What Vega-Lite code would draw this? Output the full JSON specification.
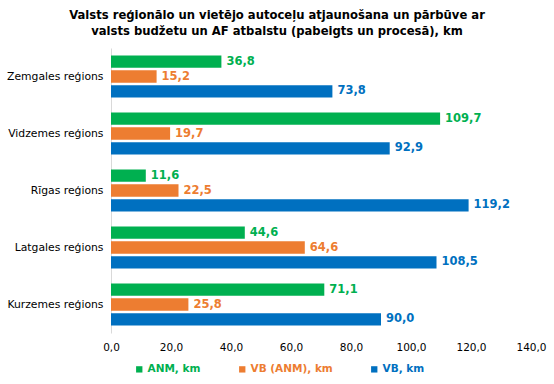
{
  "$schema": "https://vega.github.io/schema/vega-lite/v6.json",
  "width": 420,
  "height": 285,
  "autosize": {"type": "none"},
  "padding": {"left": 111, "top": 48, "right": 23, "bottom": 51},
  "background": "white",
  "config": {
    "locale": {"number": {"decimal": ",", "thousands": " ", "grouping": [3], "currency": ["", ""]}},
    "font": "DejaVu Sans",
    "view": {"stroke": null}
  },
  "title": {
    "text": ["Valsts reģionālo un vietējo autoceļu atjaunošana un pārbūve ar", "valsts budžetu un AF atbalstu (pabeigts un procesā), km"],
    "font": "DejaVu Sans",
    "fontSize": 11.6,
    "fontWeight": "bold",
    "color": "#000000",
    "anchor": "middle",
    "frame": "group",
    "dx": -44,
    "offset": 10,
    "lineHeight": 16
  },
  "data": {
    "values": [
      {"region": "Zemgales reģions", "series": "ANM, km", "value": 36.8},
      {"region": "Zemgales reģions", "series": "VB (ANM), km", "value": 15.2},
      {"region": "Zemgales reģions", "series": "VB, km", "value": 73.8},
      {"region": "Vidzemes reģions", "series": "ANM, km", "value": 109.7},
      {"region": "Vidzemes reģions", "series": "VB (ANM), km", "value": 19.7},
      {"region": "Vidzemes reģions", "series": "VB, km", "value": 92.9},
      {"region": "Rīgas reģions", "series": "ANM, km", "value": 11.6},
      {"region": "Rīgas reģions", "series": "VB (ANM), km", "value": 22.5},
      {"region": "Rīgas reģions", "series": "VB, km", "value": 119.2},
      {"region": "Latgales reģions", "series": "ANM, km", "value": 44.6},
      {"region": "Latgales reģions", "series": "VB (ANM), km", "value": 64.6},
      {"region": "Latgales reģions", "series": "VB, km", "value": 108.5},
      {"region": "Kurzemes reģions", "series": "ANM, km", "value": 71.1},
      {"region": "Kurzemes reģions", "series": "VB (ANM), km", "value": 25.8},
      {"region": "Kurzemes reģions", "series": "VB, km", "value": 90.0}
    ]
  },
  "encoding": {
    "y": {
      "field": "region",
      "type": "nominal",
      "sort": null,
      "scale": {"paddingInner": 0.26, "paddingOuter": 0.13},
      "axis": {
        "title": null,
        "ticks": false,
        "domain": true,
        "domainColor": "#d9d9d9",
        "labelFont": "DejaVu Sans",
        "labelFontSize": 10.8,
        "labelColor": "#000000",
        "labelPadding": 8
      }
    },
    "yOffset": {
      "field": "series",
      "type": "nominal",
      "sort": ["ANM, km", "VB (ANM), km", "VB, km"],
      "scale": {"paddingInner": 0.18}
    },
    "x": {
      "field": "value",
      "type": "quantitative",
      "scale": {"domain": [0, 140]},
      "axis": {
        "title": null,
        "values": [0, 20, 40, 60, 80, 100, 120, 140],
        "format": ".1f",
        "grid": false,
        "domain": false,
        "ticks": false,
        "labelFlush": false,
        "labelFont": "DejaVu Sans",
        "labelFontSize": 10.5,
        "labelColor": "#000000",
        "labelPadding": 9
      }
    },
    "color": {
      "field": "series",
      "type": "nominal",
      "sort": ["ANM, km", "VB (ANM), km", "VB, km"],
      "scale": {"domain": ["ANM, km", "VB (ANM), km", "VB, km"], "range": ["#00B050", "#ED7D31", "#0070C0"]},
      "legend": {
        "title": null,
        "orient": "none",
        "legendX": 23,
        "legendY": 316,
        "direction": "horizontal",
        "symbolType": "square",
        "symbolSize": 40,
        "symbolStrokeWidth": 0,
        "labelFont": "DejaVu Sans",
        "labelFontSize": 10.5,
        "labelFontWeight": "bold",
        "labelOffset": 3,
        "columnPadding": 36,
        "encode": {
          "labels": {"update": {"fill": {"scale": "color", "field": "value"}}}
        }
      }
    }
  },
  "layer": [
    {"mark": {"type": "bar"}},
    {
      "mark": {"type": "text", "align": "left", "baseline": "middle", "dx": 5, "fontWeight": "bold", "fontSize": 11.5, "font": "DejaVu Sans"},
      "encoding": {
        "text": {"field": "value", "type": "quantitative", "format": ".1f"}
      }
    }
  ]
}
